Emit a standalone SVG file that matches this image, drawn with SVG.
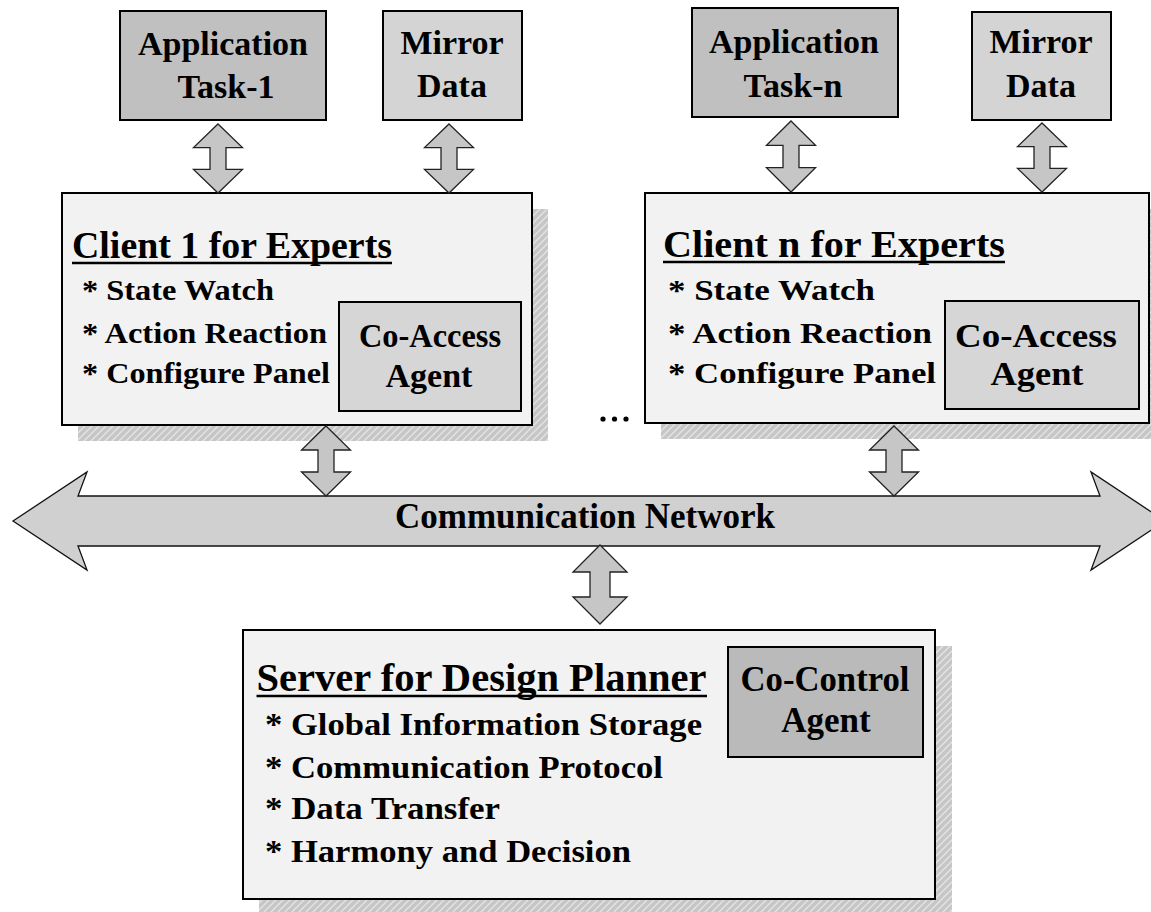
<svg xmlns="http://www.w3.org/2000/svg" width="1151" height="912" viewBox="0 0 1151 912">
  <defs>
    <!-- diagonal hatch used for the drop shadows -->
    <pattern id="hatch" patternUnits="userSpaceOnUse" width="7" height="7">
      <rect width="7" height="7" fill="#c6c6c6"/>
      <path d="M-1,8 L8,-1 M-1,1 L1,-1 M6,8 L8,6" stroke="#e4e4e4" stroke-width="1.4"/>
    </pattern>
    <!-- double-headed block arrow, 49 wide, 70 tall, centred on x=0, top at y=0 -->
    <path id="dbl" d="M0,0 L24.5,24 L8,24 L8,46 L24.5,46 L0,70 L-24.5,46 L-8,46 L-8,24 L-24.5,24 Z"/>
  </defs>
  <style>
    .box { stroke: #000; stroke-width: 2; }
    .app { fill: #c0c0c0; }
    .mirror { fill: #d4d4d4; }
    .panel { fill: #f2f2f2; }
    .agent { fill: #d6d6d6; }
    .ctrl { fill: #bababa; }
    .shadow { fill: url(#hatch); }
    .arrow { fill: #c6c6c6; stroke: #222; stroke-width: 1.3; stroke-linejoin: miter; }
    .net { fill: #d0d0d0; stroke: #111; stroke-width: 1.3; }
    text { font-family: "Liberation Serif", "Times New Roman", serif; font-weight: bold; fill: #000; }
    .t34 { font-size: 34px; }
    .title { font-size: 38px; }
    .item { font-size: 30px; }
    .mid { text-anchor: middle; }
    .ul { stroke: #000; stroke-width: 2.5; }
  </style>

  <!-- application / mirror boxes -->
  <g id="app-task-1">
    <rect class="box app" x="120" y="11" width="206" height="109"/>
    <text class="t34 mid" x="223" y="55">Application</text>
    <text class="t34 mid" x="226" y="98">Task-1</text>
  </g>
  <g id="mirror-data-1">
    <rect class="box mirror" x="383" y="11" width="139" height="109"/>
    <text class="t34 mid" x="452" y="54">Mirror</text>
    <text class="t34 mid" x="452" y="97">Data</text>
  </g>
  <g id="app-task-n">
    <rect class="box app" x="692" y="8" width="206" height="109"/>
    <text class="t34 mid" x="794" y="53">Application</text>
    <text class="t34 mid" x="793" y="97">Task-n</text>
  </g>
  <g id="mirror-data-n">
    <rect class="box mirror" x="972" y="12" width="139" height="108"/>
    <text class="t34 mid" x="1041" y="53">Mirror</text>
    <text class="t34 mid" x="1041" y="97">Data</text>
  </g>

  <!-- client 1 -->
  <g id="client-1">
    <rect class="shadow" x="78" y="209" width="470" height="232"/>
    <rect class="box panel" x="62" y="193" width="470" height="232"/>
    <text class="title" x="72" y="258" textLength="320" lengthAdjust="spacingAndGlyphs">Client 1 for Experts</text>
    <line class="ul" x1="72" y1="263" x2="392" y2="263"/>
    <text class="item" x="82" y="300" textLength="192" lengthAdjust="spacingAndGlyphs">* State Watch</text>
    <text class="item" x="82" y="343" textLength="245" lengthAdjust="spacingAndGlyphs">* Action Reaction</text>
    <text class="item" x="82" y="383" textLength="248" lengthAdjust="spacingAndGlyphs">* Configure Panel</text>
  </g>
  <g id="co-access-1">
    <rect class="box agent" x="339" y="302" width="182" height="109"/>
    <text class="t34 mid" x="430" y="347" textLength="142" lengthAdjust="spacingAndGlyphs">Co-Access</text>
    <text class="t34 mid" x="429" y="387">Agent</text>
  </g>

  <!-- client n -->
  <g id="client-n">
    <rect class="shadow" x="661" y="209" width="505" height="230"/>
    <rect class="box panel" x="645" y="193" width="504" height="230"/>
    <text class="title" x="663" y="257" textLength="342" lengthAdjust="spacingAndGlyphs">Client n for Experts</text>
    <line class="ul" x1="663" y1="262" x2="1005" y2="262"/>
    <text class="item" x="668" y="300" textLength="207" lengthAdjust="spacingAndGlyphs">* State Watch</text>
    <text class="item" x="668" y="343" textLength="264" lengthAdjust="spacingAndGlyphs">* Action Reaction</text>
    <text class="item" x="668" y="383" textLength="268" lengthAdjust="spacingAndGlyphs">* Configure Panel</text>
  </g>
  <g id="co-access-n">
    <rect class="box agent" x="945" y="301" width="194" height="108"/>
    <text class="t34 mid" x="1036" y="347" textLength="162" lengthAdjust="spacingAndGlyphs">Co-Access</text>
    <text class="t34 mid" x="1037" y="385" textLength="93" lengthAdjust="spacingAndGlyphs">Agent</text>
  </g>

  <!-- ellipsis between clients -->
  <g id="ellipsis" fill="#000">
    <circle cx="603" cy="419" r="2.6"/>
    <circle cx="614.5" cy="419" r="2.6"/>
    <circle cx="626" cy="419" r="2.6"/>
  </g>

  <!-- server -->
  <g id="server">
    <rect class="shadow" x="259" y="646" width="693" height="270"/>
    <rect class="box panel" x="243" y="630" width="692" height="269"/>
    <text class="title" x="256.5" y="691" style="font-size:39px" textLength="450" lengthAdjust="spacingAndGlyphs">Server for Design Planner</text>
    <line class="ul" x1="256.5" y1="696" x2="707" y2="696"/>
    <text class="item" x="265" y="735" style="font-size:31px" textLength="437" lengthAdjust="spacingAndGlyphs">* Global Information Storage</text>
    <text class="item" x="265" y="778" style="font-size:31px" textLength="398" lengthAdjust="spacingAndGlyphs">* Communication Protocol</text>
    <text class="item" x="265" y="819" style="font-size:31px" textLength="235" lengthAdjust="spacingAndGlyphs">* Data Transfer</text>
    <text class="item" x="265" y="862" style="font-size:31px" textLength="366" lengthAdjust="spacingAndGlyphs">* Harmony and Decision</text>
  </g>
  <g id="co-control">
    <rect class="box ctrl" x="728" y="647" width="195" height="110"/>
    <text class="mid" x="825" y="691" style="font-size:35px" textLength="169" lengthAdjust="spacingAndGlyphs">Co-Control</text>
    <text class="mid" x="826" y="732" style="font-size:35px">Agent</text>
  </g>

  <!-- communication network bus -->
  <g id="network">
    <path class="net" d="M13,521 L87,472 L78,496 L1100,496 L1091,472 L1165,521 L1091,570 L1100,546 L78,546 L87,570 Z"/>
    <text x="395" y="528" style="font-size:35px" textLength="380" lengthAdjust="spacingAndGlyphs">Communication Network</text>
  </g>

  <!-- connectors -->
  <g id="connectors">
    <use href="#dbl" class="arrow" transform="translate(218,124) scale(1,0.986)"/>
    <use href="#dbl" class="arrow" transform="translate(449,124) scale(1,0.986)"/>
    <use href="#dbl" class="arrow" transform="translate(791,121) scale(1,1.014)"/>
    <use href="#dbl" class="arrow" transform="translate(1042,123) scale(1,0.986)"/>
    <use href="#dbl" class="arrow" transform="translate(326,426)"/>
    <use href="#dbl" class="arrow" transform="translate(894,426)"/>
    <path class="arrow" d="M600,545 L627,572 L610,572 L610,597 L627,597 L600,624 L573,597 L590,597 L590,572 L573,572 Z"/>
  </g>
</svg>
